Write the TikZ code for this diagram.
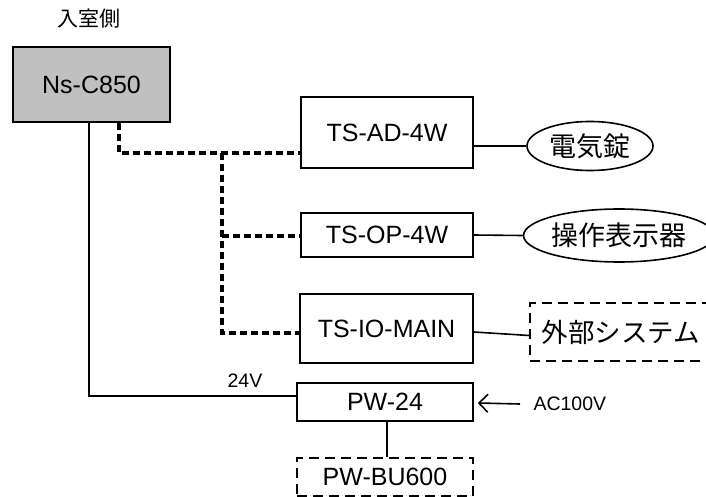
\documentclass[tikz,border=0pt]{standalone}
\usepackage{fontspec}
\setmainfont{Liberation Sans}
\newfontfamily\jp{Noto Sans CJK JP}
\usetikzlibrary{shapes.geometric,arrows.meta}
\begin{document}
\begin{tikzpicture}[x=1pt,y=-1pt,
  box/.style={draw,line width=1.6pt,minimum width=#1,inner sep=0pt,font=\fontsize{25}{25}\selectfont},
  dbox/.style={draw,line width=1.5pt,dash pattern=on 10pt off 6pt,inner sep=0pt,font=\fontsize{25}{25}\selectfont},
  oval/.style={draw,ellipse,line width=1.6pt,inner sep=0pt,font=\jp\fontsize{27}{27}\selectfont},
  bus/.style={line width=3.5pt,dash pattern=on 7pt off 4pt},
  wire/.style={line width=1.6pt},
  small/.style={font=\fontsize{19.5}{19.5}\selectfont}]
\useasboundingbox (0,0) rectangle (706,497);
\clip (0,0) rectangle (706,497);
\node[font=\jp\fontsize{21}{21}\selectfont] (lab) at (89,19) {入室側};
\node[box=157pt,minimum height=75pt,fill={rgb,255:red,192;green,192;blue,192}] (ns) at (91.5,84.5) {Ns-C850};
\node[box=172pt,minimum height=71pt] (ad) at (387,132.5) {TS-AD-4W};
\node[box=172pt,minimum height=44pt] (op) at (387,235) {TS-OP-4W};
\node[box=173pt,minimum height=69pt] (io) at (386.5,328.5) {TS-IO-MAIN};
\node[box=176pt,minimum height=38pt] (pw) at (385,402) {PW-24};
\node[dbox,minimum width=176pt,minimum height=38pt] (bu) at (385,477) {PW-BU600};
\node[oval,minimum width=126pt,minimum height=49pt] (lock) at (590,146) {電気錠};
\node[oval,minimum width=182pt,minimum height=53pt] (disp) at (619,235.5) {操作表示器};
\node[dbox,minimum width=182pt,minimum height=58pt,font=\jp\fontsize{26.5}{26.5}\selectfont] (ext) at (621,332) {外部システム};
\node[small] (v24) at (245,381) {24V};
\node[small,anchor=west] (ac) at (530,404) {AC100V};
\coordinate (j1) at (222,153);
\coordinate (j2) at (222,236);
% dashed bus
\draw[bus] ([xshift=27.5pt]ns.south) |- ([yshift=-20.5pt]ad.west);
\draw[bus] (j1) |- ([yshift=-4.5pt]io.west);
\draw[bus] (j2) -- (op.west |- j2);
% solid wires
\draw[wire] ([xshift=-2.5pt]ns.south) |- ([yshift=6pt]pw.west);
\draw[wire] ([yshift=-13.5pt]ad.east) -- (lock.west);
\draw[wire] (op.east) -- (disp.west);
\draw[wire] ([yshift=-3.5pt]io.east) -- ([yshift=-3.5pt]ext.west);
\draw[wire] ([xshift=2pt]pw.south) -- ([xshift=2pt]bu.north);
\draw[wire,{Straight Barb[length=9pt,width=18pt]}-] ([xshift=4pt,yshift=-1pt]pw.east) -- ([xshift=-10pt]ac.west);
\end{tikzpicture}
\end{document}
